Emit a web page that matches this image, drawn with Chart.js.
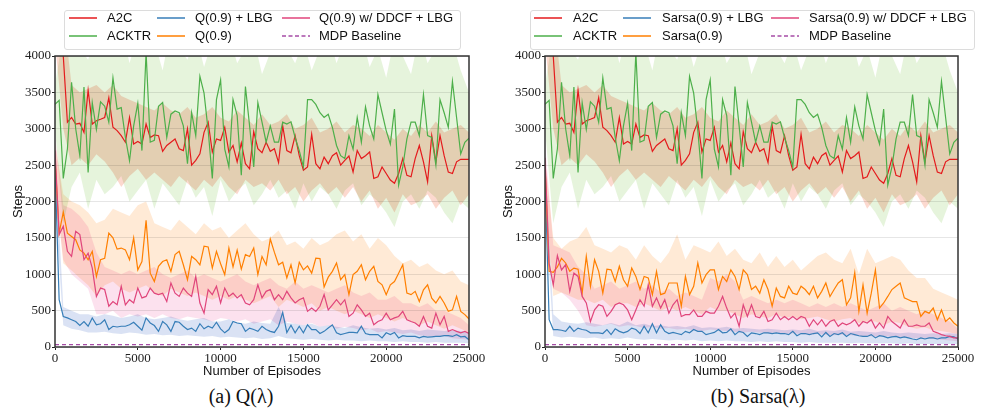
<!DOCTYPE html>
<html>
<head>
<meta charset="utf-8">
<script src="https://cdn.jsdelivr.net/npm/chart.js@4.4.1/dist/chart.umd.min.js"></script>
<style>
  body { margin: 0; background: #fff; }
  #page { position: relative; width: 983px; height: 412px; overflow: hidden; background: #fff; font-family: "Liberation Sans", Arial, sans-serif; }
  .panel { position: absolute; top: 0; width: 490px; height: 385px; }
  #panelA { left: 0; }
  #panelB { left: 490px; }
  canvas { position: absolute; left: 0; top: 0; }
  .legend { position: absolute; top: 10px; height: 38px; border: 1px solid #dcdcdc; border-radius: 3px; background: rgba(255,255,255,0.85); }
  .txt { position: absolute; font-size: 13px; line-height: 16px; white-space: nowrap; color: #111; }
  .sw { position: absolute; width: 28px; height: 4px; line-height: 0; }
  .sw svg { display: block; }
  .caption { position: absolute; top: 385px; font-family: "Liberation Serif", "DejaVu Serif", serif; font-size: 20px; color: #111; transform: translateX(-50%); white-space: nowrap; }
</style>
</head>
<body>
<div id="page">
  <div class="panel" id="panelA"><canvas id="chartA" width="490" height="385"></canvas></div>
  <div class="panel" id="panelB"><canvas id="chartB" width="490" height="385"></canvas></div>
  <div id="legends"></div>
  <div class="caption" style="left:241px;">(a) Q(λ)</div>
  <div class="caption" style="left:758px;">(b) Sarsa(λ)</div>
</div>
<script>
// axes
const MAX_EPISODE = 25000;
const xTickValues = [0, 5000, 10000, 15000, 20000, 25000];
const yTickValues = [0, 500, 1000, 1500, 2000, 2500, 3000, 3500, 4000];
const mdpBaseline = [32, 32];

// legend labels, column-major like the original (3 columns x 2 rows)
const legendLabelsA = ["A2C", "ACKTR", "Q(0.9) + LBG", "Q(0.9)", "Q(0.9) w/ DDCF + LBG", "MDP Baseline"];
const legendLabelsB = ["A2C", "ACKTR", "Sarsa(0.9) + LBG", "Sarsa(0.9)", "Sarsa(0.9) w/ DDCF + LBG", "MDP Baseline"];

// shared baselines (same in both panels), 101 evenly spaced points
const a2c = [5200, 4600, 4000, 3090, 3155, 3065, 3075, 2950, 3530, 3065, 3110, 3130, 3155, 3425, 3020, 2975, 2905, 2815, 3155, 2790, 2825, 2790, 3065, 2880, 2915, 2905, 2690, 2770, 2815, 2860, 2725, 2700, 3000, 2500, 2565, 2655, 2950, 3090, 2680, 2860, 2840, 3020, 2680, 2770, 2545, 2805, 2520, 2450, 2960, 2725, 2670, 2815, 2690, 2725, 2535, 3040, 2700, 2670, 2905, 2630, 2430, 2475, 2925, 2520, 2450, 2610, 2520, 2630, 2670, 2500, 2565, 2625, 2405, 2700, 2590, 2630, 2680, 2317, 2340, 2475, 2385, 2295, 2250, 2385, 2590, 2360, 2340, 2590, 2770, 2545, 2270, 2905, 2545, 2905, 2630, 2405, 2385, 2545, 2580, 2580, 2580];
const acktr = [3335, 3390, 2317, 2725, 3640, 3000, 2630, 3575, 2400, 3360, 2990, 3370, 3310, 3090, 3700, 3270, 3290, 2880, 2560, 3040, 3350, 2700, 4050, 2815, 2840, 3310, 3360, 2880, 3200, 3245, 3220, 3040, 2520, 3220, 2905, 3720, 3490, 2975, 2317, 3400, 3670, 2720, 2475, 3400, 3180, 2360, 3580, 3040, 2475, 3360, 3090, 2815, 3040, 2815, 2815, 3090, 3065, 3095, 2880, 2700, 2475, 3400, 3400, 3335, 3220, 3155, 3200, 3020, 2770, 2630, 2590, 2905, 2720, 3155, 2815, 3300, 3040, 2860, 3470, 3220, 2975, 2790, 3270, 2225, 2475, 2860, 3090, 3090, 2905, 3470, 2905, 2880, 2500, 3400, 3220, 3020, 3650, 3155, 2655, 2815, 2870];
// bands, 51 evenly spaced points
const a2cUpper = [6000, 4600, 3600, 3500, 3550, 3600, 3500, 3600, 3450, 3400, 3350, 3300, 3250, 3350, 3250, 3200, 3300, 3150, 3200, 3300, 3150, 3100, 3250, 3150, 3050, 3200, 3050, 3100, 3200, 3000, 3050, 3150, 2950, 3000, 3100, 2950, 3050, 3000, 2900, 3050, 2950, 2850, 3000, 2900, 3050, 2950, 3100, 2950, 3000, 3050, 2950];
const a2cLower = [4200, 3000, 2500, 2600, 2500, 2650, 2550, 2400, 2200, 2350, 2450, 2300, 2400, 2300, 2200, 2350, 2250, 2150, 2300, 2200, 2350, 2200, 2100, 2300, 2200, 2250, 2150, 2300, 2100, 2200, 2000, 2150, 2250, 2100, 2200, 2050, 2200, 2000, 2150, 1900, 2050, 1850, 2100, 1950, 2000, 2100, 1900, 2050, 2150, 1950, 2100];
const acktrUpper = [3600, 4300, 4200, 4100, 3950, 4300, 4000, 4200, 4400, 3900, 4300, 4100, 4200, 3800, 4400, 4100, 3950, 4300, 3850, 4200, 4000, 4300, 3900, 4100, 4250, 3750, 4050, 4300, 4100, 3900, 4200, 3800, 4100, 4300, 3900, 4200, 4000, 4300, 3850, 4100, 3700, 4250, 4000, 3750, 4300, 3900, 4100, 4000, 4200, 3800, 3500];
const acktrLower = [3000, 1700, 2200, 2400, 1900, 2300, 2100, 2200, 2350, 2000, 2150, 2300, 1900, 2250, 2100, 1950, 2300, 2050, 2200, 1800, 2300, 2000, 2150, 2250, 1950, 2100, 2300, 2050, 2150, 1900, 2250, 2000, 2200, 2100, 1900, 2150, 2250, 1950, 2100, 2000, 1850, 1650, 2000, 2100, 1900, 2150, 2050, 1850, 1700, 2000, 1900];

// (a) Q(lambda)
const qLbg = [2500, 650, 420, 400, 375, 350, 295, 350, 285, 400, 305, 320, 375, 240, 285, 275, 285, 285, 305, 340, 285, 230, 400, 330, 295, 215, 350, 305, 215, 350, 340, 285, 240, 260, 215, 320, 250, 285, 260, 340, 250, 195, 240, 350, 330, 320, 215, 260, 240, 215, 285, 240, 215, 200, 285, 475, 200, 300, 195, 285, 195, 305, 240, 240, 185, 215, 260, 305, 195, 170, 185, 200, 200, 195, 285, 185, 170, 170, 170, 125, 195, 170, 200, 125, 155, 145, 145, 145, 125, 145, 135, 140, 145, 145, 155, 155, 145, 170, 140, 145, 100];
const qLbgUpper = [2700, 550, 500, 450, 450, 420, 450, 430, 400, 420, 450, 400, 380, 400, 420, 380, 360, 380, 400, 350, 350, 380, 340, 320, 350, 330, 320, 550, 330, 320, 300, 320, 280, 300, 280, 260, 300, 270, 250, 260, 240, 260, 230, 240, 220, 240, 230, 220, 230, 220, 200];
const qLbgLower = [2000, 300, 250, 230, 200, 200, 210, 190, 180, 200, 190, 170, 180, 160, 170, 150, 160, 150, 140, 150, 130, 140, 130, 120, 130, 110, 120, 150, 120, 110, 100, 110, 100, 90, 100, 90, 90, 80, 90, 80, 80, 70, 80, 70, 70, 60, 70, 60, 60, 60, 50];
const qPlain = [2600, 1565, 1855, 1565, 1520, 1475, 1335, 1290, 1200, 1315, 970, 1200, 1220, 1565, 1500, 1345, 1360, 1335, 1200, 1500, 1060, 1175, 1740, 1015, 900, 1110, 1175, 1200, 1040, 1270, 1315, 1130, 925, 1245, 1200, 1130, 1385, 1375, 1085, 1315, 1145, 995, 1360, 1100, 1330, 1070, 1270, 1245, 1360, 995, 1245, 1130, 1485, 1300, 1130, 1165, 950, 1130, 880, 1165, 1060, 1115, 1015, 1220, 1215, 825, 960, 1040, 1155, 925, 995, 720, 995, 1040, 1130, 925, 1040, 1110, 900, 855, 720, 855, 900, 1015, 1130, 740, 720, 765, 625, 785, 855, 670, 605, 695, 605, 490, 510, 695, 490, 445, 385];
const qPlainUpper = [2800, 2100, 2000, 1950, 1850, 1700, 1750, 1900, 1850, 1800, 1950, 2000, 1700, 1650, 1600, 1750, 1650, 1550, 1700, 1600, 1650, 1500, 1600, 1700, 1550, 1450, 1500, 1600, 1400, 1450, 1350, 1500, 1400, 1450, 1550, 1600, 1450, 1550, 1350, 1500, 1400, 1250, 1150, 1200, 1100, 1150, 1050, 1000, 1050, 900, 850];
const qPlainLower = [2300, 1150, 1050, 950, 850, 700, 850, 900, 800, 750, 800, 850, 750, 700, 800, 750, 700, 750, 700, 650, 700, 650, 700, 650, 600, 650, 700, 550, 650, 600, 550, 600, 500, 550, 500, 450, 500, 450, 400, 450, 400, 350, 400, 350, 300, 350, 300, 250, 300, 250, 200];
const qDdcf = [2700, 1545, 1660, 1315, 1245, 1590, 1545, 1200, 1290, 1085, 695, 810, 790, 560, 625, 580, 835, 580, 650, 605, 810, 675, 695, 810, 740, 720, 740, 625, 880, 740, 695, 810, 740, 695, 970, 605, 465, 790, 720, 835, 605, 810, 695, 740, 675, 720, 605, 580, 650, 855, 675, 765, 790, 650, 720, 650, 765, 675, 605, 650, 675, 490, 535, 490, 560, 720, 510, 580, 650, 580, 650, 420, 465, 580, 510, 420, 465, 305, 350, 375, 465, 375, 400, 420, 490, 375, 350, 330, 285, 420, 285, 260, 465, 305, 420, 215, 240, 215, 195, 215, 185];
const qDdcfUpper = [2900, 1950, 1900, 1800, 1650, 1300, 1100, 1050, 1000, 1050, 1000, 1050, 1100, 1000, 950, 1000, 1050, 950, 1000, 950, 900, 950, 1000, 900, 850, 900, 950, 850, 800, 900, 800, 850, 800, 750, 800, 850, 750, 700, 750, 650, 650, 700, 600, 600, 550, 600, 500, 500, 450, 400, 300];
const qDdcfLower = [2200, 1200, 1000, 900, 800, 450, 450, 500, 400, 450, 420, 450, 400, 450, 400, 380, 420, 400, 380, 350, 400, 380, 350, 380, 320, 350, 380, 300, 350, 320, 300, 330, 280, 300, 250, 280, 260, 230, 250, 200, 220, 200, 180, 200, 160, 150, 140, 150, 120, 110, 100];

// (b) Sarsa(lambda)
const sLbg = [2400, 375, 240, 240, 230, 215, 285, 215, 260, 240, 230, 195, 195, 195, 185, 240, 170, 250, 215, 195, 215, 260, 240, 185, 285, 195, 320, 195, 305, 215, 185, 200, 185, 170, 215, 195, 240, 215, 215, 170, 185, 200, 240, 195, 200, 250, 170, 215, 200, 145, 195, 185, 170, 195, 195, 185, 195, 185, 185, 170, 215, 155, 185, 185, 170, 185, 195, 140, 200, 145, 185, 170, 195, 145, 185, 170, 155, 145, 145, 170, 125, 155, 145, 125, 140, 145, 125, 140, 125, 110, 100, 125, 110, 125, 125, 110, 125, 125, 145, 140, 110];
const sLbgUpper = [2600, 450, 350, 330, 320, 340, 320, 300, 330, 300, 350, 300, 320, 290, 300, 280, 290, 270, 300, 260, 270, 260, 280, 250, 260, 250, 240, 250, 240, 230, 240, 230, 250, 220, 230, 220, 240, 210, 220, 210, 200, 220, 200, 190, 200, 190, 180, 190, 180, 190, 180];
const sLbgLower = [2000, 150, 130, 140, 130, 120, 130, 110, 120, 110, 130, 110, 100, 110, 100, 90, 100, 90, 100, 80, 90, 80, 90, 80, 80, 70, 80, 70, 80, 70, 70, 60, 70, 60, 60, 60, 60, 50, 60, 50, 50, 50, 50, 40, 50, 40, 40, 40, 40, 40, 40];
const sPlain = [2500, 1040, 1025, 1100, 1220, 1155, 1040, 1085, 1070, 740, 1245, 835, 1200, 1040, 740, 1070, 1060, 900, 1110, 925, 835, 1085, 970, 790, 970, 950, 720, 1040, 720, 740, 880, 880, 880, 560, 970, 720, 835, 1155, 880, 995, 1060, 1060, 790, 970, 900, 1060, 970, 790, 1060, 995, 790, 835, 740, 925, 790, 560, 810, 695, 675, 835, 740, 720, 835, 790, 720, 835, 675, 765, 880, 695, 790, 880, 925, 580, 675, 1025, 490, 855, 465, 740, 1060, 535, 605, 695, 790, 835, 880, 675, 650, 625, 625, 420, 490, 465, 535, 375, 510, 350, 400, 330, 285];
const sPlainUpper = [2600, 1500, 1350, 1450, 1500, 1650, 1400, 1350, 1300, 1400, 1350, 1200, 1400, 1250, 1150, 1300, 1550, 1200, 1400, 1350, 1300, 1450, 1250, 1350, 1200, 1150, 1300, 1100, 1250, 1100, 1200, 1050, 1150, 1250, 1300, 1200, 1150, 1350, 1000, 1350, 1150, 1200, 1250, 1200, 1050, 950, 950, 800, 750, 700, 650];
const sPlainLower = [1900, 700, 750, 700, 650, 650, 600, 650, 550, 600, 600, 550, 600, 550, 500, 550, 500, 550, 500, 450, 550, 500, 500, 450, 400, 450, 420, 400, 450, 400, 420, 380, 400, 420, 380, 350, 380, 400, 330, 350, 350, 300, 350, 330, 280, 250, 270, 230, 220, 200, 180];
const sDdcf = [2600, 1150, 855, 1255, 1060, 1130, 765, 1015, 970, 695, 605, 350, 510, 580, 560, 420, 490, 580, 605, 580, 510, 375, 510, 650, 560, 855, 560, 675, 535, 650, 465, 580, 650, 420, 445, 445, 510, 420, 420, 490, 465, 465, 560, 695, 535, 400, 465, 285, 580, 420, 580, 420, 400, 490, 350, 375, 465, 375, 420, 375, 420, 375, 420, 400, 285, 375, 305, 375, 285, 350, 375, 285, 330, 305, 330, 375, 285, 350, 330, 375, 260, 330, 260, 420, 350, 305, 260, 375, 285, 285, 305, 285, 285, 330, 215, 195, 170, 155, 145, 125, 125];
const sDdcfUpper = [2800, 1400, 1350, 1300, 1100, 1000, 800, 850, 900, 800, 850, 900, 800, 850, 750, 800, 700, 750, 700, 650, 950, 900, 1000, 900, 650, 700, 650, 600, 650, 600, 650, 600, 550, 600, 550, 600, 550, 600, 550, 500, 550, 600, 500, 550, 500, 450, 500, 450, 400, 350, 250];
const sDdcfLower = [2200, 800, 750, 650, 500, 300, 280, 300, 320, 280, 300, 290, 260, 280, 250, 260, 240, 250, 230, 220, 240, 230, 220, 210, 200, 210, 200, 190, 200, 180, 190, 180, 170, 180, 170, 160, 170, 160, 150, 150, 140, 150, 140, 130, 130, 120, 110, 110, 100, 90, 80];

const COLORS = {
  a2c: "#e41a1c", acktr: "#4daf4a", lbg: "#377eb8", plain: "#ff7f00", ddcf: "#e0457b", mdp: "#a64ca6",
};
const FILLS = {
  a2c: "rgba(245,130,95,0.3)", acktr: "rgba(130,200,80,0.2)", lbg: "rgba(70,110,200,0.2)",
  plain: "rgba(255,150,50,0.2)", ddcf: "rgba(231,41,138,0.14)",
};
// legend swatch colours follow the label order above
const LEGEND_COLORS = [COLORS.a2c, COLORS.acktr, COLORS.lbg, COLORS.plain, COLORS.ddcf, COLORS.mdp];

Chart.defaults.animation = false;

function buildLegend(labels, box, swatchX, textX) {
  const host = document.getElementById("legends");
  const frame = document.createElement("div");
  frame.className = "legend";
  frame.style.left = box[0] + "px";
  frame.style.width = box[1] + "px";
  host.appendChild(frame);
  const rowY = [17.5, 36];
  labels.forEach((label, i) => {
    const col = Math.floor(i / 2);
    const row = i % 2;
    const dashed = label === "MDP Baseline";
    const sw = document.createElement("div");
    sw.className = "sw";
    sw.style.left = swatchX[col] + "px";
    sw.style.top = (rowY[row] - 2) + "px";
    sw.innerHTML = `<svg width="28" height="4"><line x1="0" y1="2" x2="28" y2="2" stroke="${LEGEND_COLORS[i]}" stroke-width="1.5"${dashed ? ' stroke-dasharray="4,2.5"' : ""}/></svg>`;
    host.appendChild(sw);
    const t = document.createElement("div");
    t.className = "txt";
    t.style.left = textX[col] + "px";
    t.style.top = (rowY[row] - 8) + "px";
    t.textContent = label;
    host.appendChild(t);
  });
}

buildLegend(legendLabelsA, [64, 395], [69, 157, 282], [107, 195, 319]);
buildLegend(legendLabelsB, [530, 443], [534, 623, 771], [573, 662, 809]);

function toPoints(values) {
  const step = MAX_EPISODE / (values.length - 1);
  return values.map((y, i) => ({ x: i * step, y }));
}

function band(lower, upper, color) {
  return [
    { data: toPoints(lower), borderWidth: 0, pointRadius: 0, fill: false, order: 2 },
    { data: toPoints(upper), borderWidth: 0, pointRadius: 0, fill: "-1", backgroundColor: color, order: 2 },
  ];
}

function line(values, color) {
  return {
    data: toPoints(values), borderColor: color, borderWidth: 1.2,
    pointRadius: 0, fill: false, tension: 0, order: 1,
  };
}

// bands blend with "multiply" (overlaps darken like the original), lines draw normally
const framePlugin = {
  id: "frame",
  beforeDraw(chart) {
    const { ctx, width, height } = chart;
    ctx.save();
    ctx.fillStyle = "#fff";
    ctx.fillRect(0, 0, width, height);
    ctx.restore();
  },
  beforeDatasetsDraw(chart) {
    chart.ctx.save();
    chart.ctx.globalCompositeOperation = "multiply";
  },
  beforeDatasetDraw(chart, args) {
    const ds = chart.data.datasets[args.index];
    if (ds.order < 2) chart.ctx.globalCompositeOperation = "source-over";
  },
  afterDatasetsDraw(chart) {
    chart.ctx.restore();
  },
  afterDraw(chart) {
    const { ctx, chartArea: a } = chart;
    ctx.save();
    ctx.strokeStyle = "#333";
    ctx.lineWidth = 1.5;
    ctx.strokeRect(a.left, a.top, a.right - a.left, a.bottom - a.top);
    ctx.restore();
  },
};

const tickFont = { family: "'Liberation Serif', 'DejaVu Serif', serif", size: 13 };
const titleFont = { family: "'Liberation Sans', Arial, sans-serif", size: 13 };

function makeChart(id, lbg, lbgUp, lbgLo, plain, plainUp, plainLo, ddcf, ddcfUp, ddcfLo, rightPad) {
  const datasets = [
    ...band(acktrLower, acktrUpper, FILLS.acktr),
    ...band(a2cLower, a2cUpper, FILLS.a2c),
    ...band(plainLo, plainUp, FILLS.plain),
    ...band(ddcfLo, ddcfUp, FILLS.ddcf),
    ...band(lbgLo, lbgUp, FILLS.lbg),
    // lines: later in matplotlib's plotting order = earlier here (drawn on top)
    {
      data: [{ x: 0, y: mdpBaseline[0] }, { x: MAX_EPISODE, y: mdpBaseline[1] }],
      borderColor: COLORS.mdp, borderWidth: 1.2, borderDash: [4, 3], pointRadius: 0, fill: false, order: 1,
    },
    line(ddcf, COLORS.ddcf),
    line(plain, COLORS.plain),
    line(lbg, COLORS.lbg),
    line(acktr, COLORS.acktr),
    line(a2c, COLORS.a2c),
  ];

  return new Chart(document.getElementById(id), {
    type: "line",
    data: { datasets },
    plugins: [framePlugin],
    options: {
      responsive: false,
      layout: { padding: { top: 56, right: rightPad, left: 0, bottom: 0 } },
      plugins: { legend: { display: false }, tooltip: { enabled: false } },
      scales: {
        x: {
          type: "linear", min: 0, max: MAX_EPISODE,
          afterBuildTicks: (s) => { s.ticks = xTickValues.map((v) => ({ value: v })); },
          afterFit: (s) => { s.height = 38; },
          ticks: { font: tickFont, color: "#222", padding: 1, maxRotation: 0, callback: (v) => String(v) },
          grid: { drawOnChartArea: false, drawTicks: true, tickLength: 3, tickColor: "#222" },
          border: { display: false },
          title: { display: true, text: "Number of Episodes", font: titleFont, color: "#111", padding: { top: 0, bottom: 6 } },
        },
        y: {
          min: 0, max: 4000,
          afterBuildTicks: (s) => { s.ticks = yTickValues.map((v) => ({ value: v })); },
          afterFit: (s) => { s.width = 55; },
          ticks: { font: tickFont, color: "#222", padding: 1, callback: (v) => String(v) },
          grid: { color: "#e6e6e6", lineWidth: 1, drawTicks: true, tickLength: 3, tickColor: "#222" },
          border: { display: false },
          title: { display: true, text: "Steps", font: titleFont, color: "#111", padding: { top: 11, bottom: 0 } },
        },
      },
    },
  });
}

makeChart("chartA", qLbg, qLbgUpper, qLbgLower, qPlain, qPlainUpper, qPlainLower, qDdcf, qDdcfUpper, qDdcfLower, 21);
makeChart("chartB", sLbg, sLbgUpper, sLbgLower, sPlain, sPlainUpper, sPlainLower, sDdcf, sDdcfUpper, sDdcfLower, 22);
</script>
</body>
</html>
